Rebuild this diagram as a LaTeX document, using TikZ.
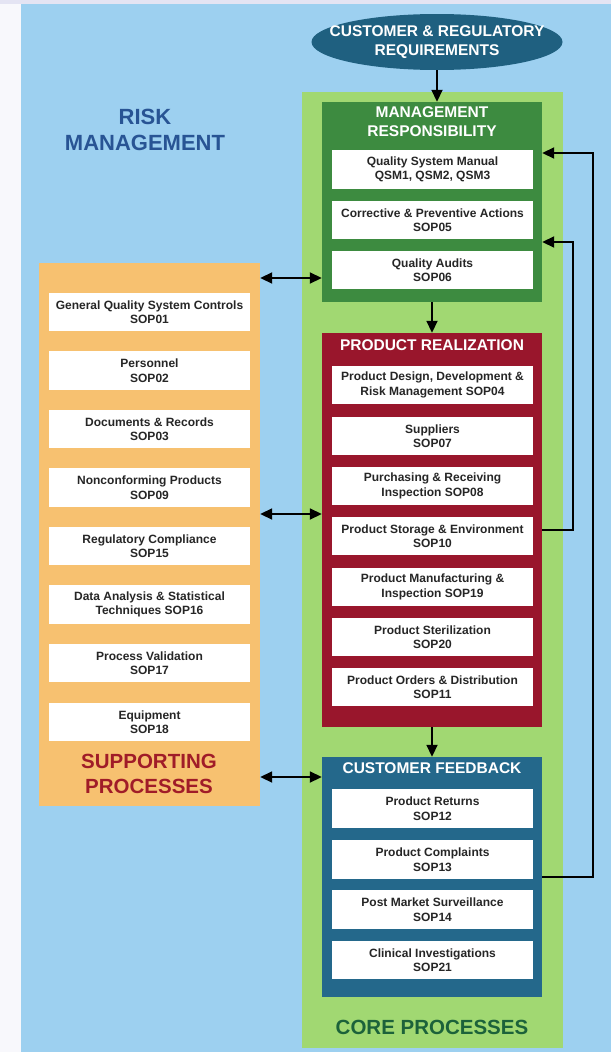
\documentclass[tikz,border=0pt]{standalone}
\usepackage{fontspec}
\setmainfont{Liberation Sans}
\usetikzlibrary{positioning, arrows.meta, shapes.geometric}
\definecolor{pagebg}{RGB}{248,248,252}
\definecolor{topband}{RGB}{228,228,243}
\definecolor{skyblue}{RGB}{157,208,240}
\definecolor{coregreen}{RGB}{161,216,114}
\definecolor{mgmtgreen}{RGB}{61,139,64}
\definecolor{realred}{RGB}{153,22,44}
\definecolor{fbblue}{RGB}{36,104,139}
\definecolor{reqblue}{RGB}{31,96,128}
\definecolor{suporange}{RGB}{247,193,112}
\definecolor{suptext}{RGB}{160,28,40}
\definecolor{risktext}{RGB}{40,84,148}
\definecolor{coretext}{RGB}{28,98,58}
\definecolor{boxtext}{RGB}{38,38,38}

\begin{document}
\begin{tikzpicture}[x=1pt, y=-1pt,
	wbox/.style={fill=white, minimum width=201pt, minimum height=38.5pt, inner sep=0pt,
		align=center, text=boxtext, font=\bfseries\fontsize{12}{14.5}\selectfont},
	groupbox/.style={minimum width=220pt, inner sep=0pt},
	ttl/.style={text=white, align=center, font=\bfseries\fontsize{15.5}{19}\selectfont},
	bigttl/.style={align=center, font=\bfseries\fontsize{20.5}{25}\selectfont},
	arr/.style={-{Triangle[length=12pt,width=11pt]}, line width=1.8pt},
	dbl/.style={{Triangle[length=12pt,width=11pt]}-{Triangle[length=12pt,width=11pt]}, line width=1.8pt}]

				% page and background
				\useasboundingbox (0,0) rectangle (611,1052);
				\fill[pagebg] (0,0) rectangle (611,1052);
				\fill[topband] (0,0) rectangle (611,4);
				\fill[skyblue] (21,4) rectangle (611,1052);

				\node[text=risktext, align=center, font=\bfseries\fontsize{22}{26}\selectfont] (risk) at (145,130) {RISK\\MANAGEMENT};

				% core processes
				\node[fill=coregreen, minimum width=261pt, minimum height=956pt, inner sep=0pt] (core) at (432.5,570) {};
				\node[bigttl, text=coretext] (corettl) at (432,1027) {CORE PROCESSES};

				\node[ellipse, fill=reqblue, minimum width=251pt, minimum height=56pt, inner xsep=-19pt, inner ysep=1pt, ttl] (req) at (437,42) {CUSTOMER \& REGULATORY\\REQUIREMENTS};

				\node[groupbox, fill=mgmtgreen, minimum height=200pt] (mgmt) at (432,202) {};
				\node[ttl] (mgmtttl) at (432,122) {MANAGEMENT\\RESPONSIBILITY};
				\node[wbox] (qsm) at (432.5,169.5) {Quality System Manual\\QSM1, QSM2, QSM3};
				\node[wbox] (capa) at (432.5,220) {Corrective \& Preventive Actions\\SOP05};
				\node[wbox] (audit) at (432.5,270) {Quality Audits\\SOP06};

				\node[groupbox, fill=realred, minimum height=394pt] (prod) at (432,530) {};
				\node[ttl] (prodttl) at (432,345) {PRODUCT REALIZATION};
				\node[wbox] (design) at (432.5,385) {Product Design, Development \&\\Risk Management SOP04};
				\node[wbox] (suppl) at (432.5,436) {Suppliers\\SOP07};
				\node[wbox] (purch) at (432.5,486) {Purchasing \& Receiving\\Inspection SOP08};
				\node[wbox] (store) at (432.5,536) {Product Storage \& Environment\\SOP10};
				\node[wbox] (manuf) at (432.5,587) {Product Manufacturing \&\\Inspection SOP19};
				\node[wbox] (steril) at (432.5,637) {Product Sterilization\\SOP20};
				\node[wbox] (orders) at (432.5,687) {Product Orders \& Distribution\\SOP11};

				\node[groupbox, fill=fbblue, minimum height=240pt] (fb) at (432,877) {};
				\node[ttl] (fbttl) at (432,768) {CUSTOMER FEEDBACK};
				\node[wbox] (returns) at (432.5,808.5) {Product Returns\\SOP12};
				\node[wbox] (compl) at (432.5,859.5) {Product Complaints\\SOP13};
				\node[wbox] (pms) at (432.5,909.5) {Post Market Surveillance\\SOP14};
				\node[wbox] (clin) at (432.5,960) {Clinical Investigations\\SOP21};

				% supporting processes
				\node[fill=suporange, minimum width=221pt, minimum height=543pt, inner sep=0pt] (supp) at (149.5,534.5) {};
				\node[wbox] (gqs) at (149.5,312) {General Quality System Controls\\SOP01};
				\node[wbox] (pers) at (149.5,370.5) {Personnel\\SOP02};
				\node[wbox] (docs) at (149.5,429) {Documents \& Records\\SOP03};
				\node[wbox] (ncp) at (149.5,487.5) {Nonconforming Products\\SOP09};
				\node[wbox] (regc) at (149.5,546) {Regulatory Compliance\\SOP15};
				\node[wbox] (stat) at (149.5,604.5) {Data Analysis \& Statistical\\Techniques SOP16};
				\node[wbox] (pval) at (149.5,663) {Process Validation\\SOP17};
				\node[wbox] (equip) at (149.5,722) {Equipment\\SOP18};
				\node[bigttl, text=suptext] (suppttl) at (149,773.5) {SUPPORTING\\PROCESSES};

				% flow
				\draw[arr] (req.south) -- (req.south |- mgmt.north);
				\draw[arr] (mgmt.south) -- (prod.north);
				\draw[arr] (prod.south) -- (fb.north);

				\draw[dbl] (supp.east |- 0,278) -- (mgmt.west |- 0,278);
				\draw[dbl] (supp.east |- 0,514) -- (prod.west |- 0,514);
				\draw[dbl] (supp.east |- 0,777) -- (fb.west |- 0,777);

				% feedback loops
				\draw[arr] (prod.east |- 0,530) -| (573,242) -- (mgmt.east |- 0,242);
				\draw[arr] (fb.east |- 0,877) -| (593,153) -- (mgmt.east |- 0,153);
\end{tikzpicture}
\end{document}
